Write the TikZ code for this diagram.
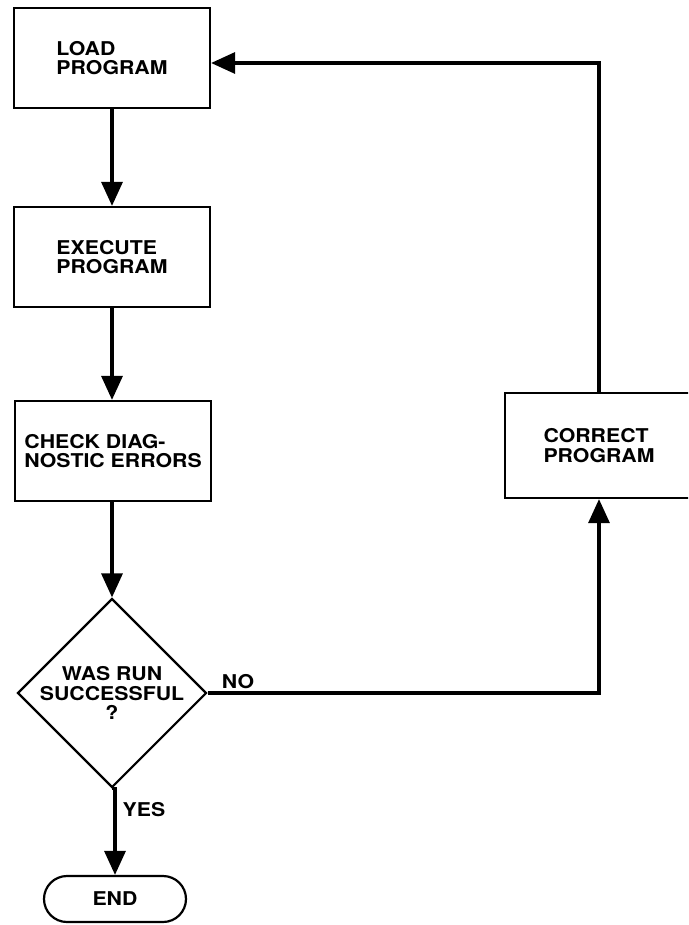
\documentclass[tikz,border=0pt]{standalone}
\usepackage{fontspec}
\setmainfont{TeX Gyre Heros}
\newfontfamily\flowfont[FakeStretch=1.12]{TeX Gyre Heros}
\usetikzlibrary{arrows.meta,shapes.geometric,shapes.misc}

\begin{document}
\begin{tikzpicture}[x=1pt,y=-1pt,
  every node/.style={font=\flowfont\bfseries\fontsize{19}{19.5}\selectfont, inner sep=0pt},
  procbox/.style={draw, line width=2.2pt, minimum width=196pt, minimum height=100pt, align=left},
  decision/.style={draw, diamond, line width=2.2pt, aspect=1, inner sep=-16pt, minimum width=189pt, minimum height=189pt, align=center},
  terminal/.style={draw, rounded rectangle, line width=2.2pt, minimum width=142pt, minimum height=46pt},
  flow/.style={line width=3.2pt, -{Triangle[length=24pt,width=21pt]}}]

\useasboundingbox (0,0) rectangle (688,925);
\clip (0,0) rectangle (688,925);

% process steps
\node[procbox] (load) at (112,58) {LOAD\\PROGRAM};
\node[procbox] (exec) at (112,257) {EXECUTE\\PROGRAM};
\node[procbox] (check) at (113,451) {CHECK DIAG-\\NOSTIC ERRORS};
\node[decision] (dec) at (112,693) {WAS RUN\\SUCCESSFUL\\?};
\node[terminal] (end) at (115,899) {END};
\node[procbox, minimum width=188pt, minimum height=105pt] (corr) at (599,445.5) {CORRECT\\PROGRAM};

% branch labels
\node (no) at (238,682) {NO};
\node (yes) at (144,810) {YES};

% main flow
\draw[flow] (load) -- (exec);
\draw[flow] (exec) -- (check.north -| exec.south);
\draw[flow] (check.south -| dec.north) -- (dec);
\draw[flow] (dec.south) -- (dec.south -| end.north) -- (end.north);

% correction loop
\draw[flow] (dec.east) -- (corr.south |- dec.east) -- (corr.south);
\draw[flow] (corr.north) -- (corr.north |- 0,63) -- (load.east |- 0,63);
\end{tikzpicture}
\end{document}
